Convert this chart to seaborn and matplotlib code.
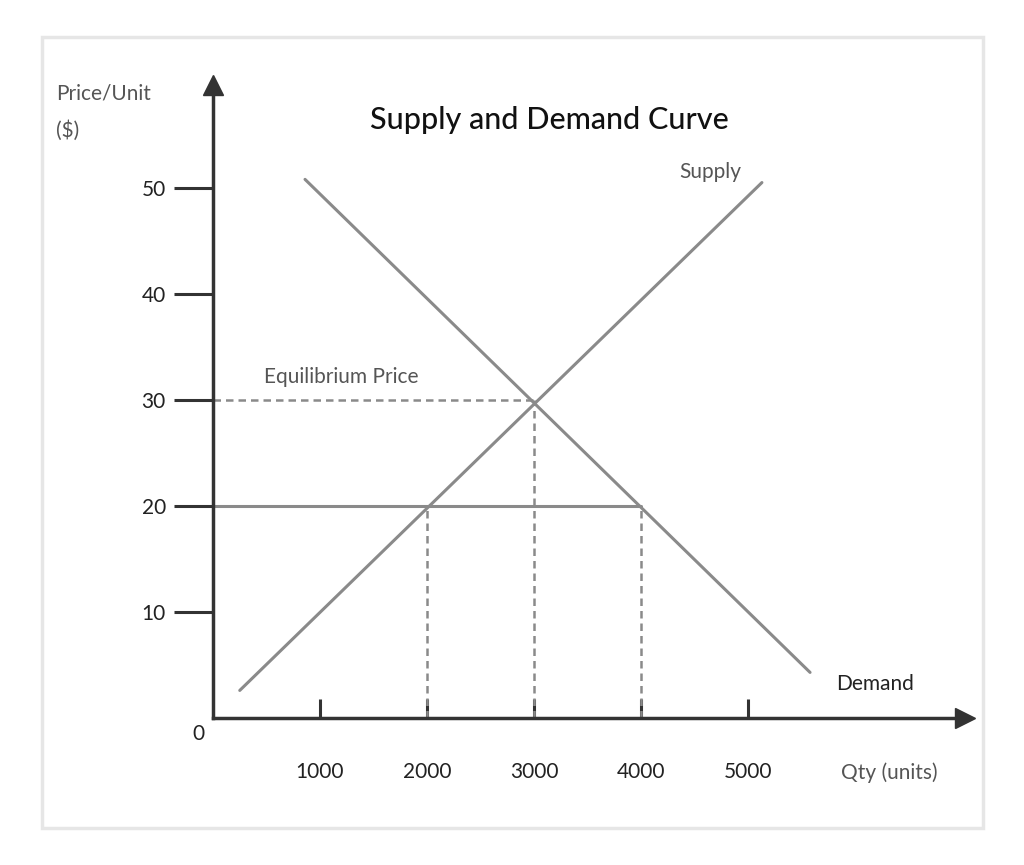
import matplotlib
matplotlib.use("Agg")
import matplotlib.pyplot as plt
import seaborn as sns
import pandas as pd
from matplotlib.patches import Rectangle

sns.set_theme(style="white")
plt.rcParams['font.family'] = ['Lato', 'DejaVu Sans']

supply_qty = [250, 5130]
supply_price = [2.6, 50.5]
demand_qty = [860, 5580]
demand_price = [50.8, 4.3]
eq_qty, eq_price = 3000, 30
price_line = 20
qty_low, qty_high = 2000, 4000
x_ticks = [1000, 2000, 3000, 4000, 5000]
y_ticks = [10, 20, 30, 40, 50]

fig = plt.figure(figsize=(10.24, 8.65), dpi=100)
fig.patches.append(Rectangle((42/1024, 1-828/865), 941/1024, 791/865, transform=fig.transFigure,
                             fill=False, edgecolor="#e6e6e6", linewidth=2.5))
ax = fig.add_axes([213/1024, 147/865, 752/1024, 633/865])
ax.set_xlim(0, 7028)
ax.set_ylim(0, 59.7)
gray = "#8a8a8a"
sup = pd.DataFrame({"q": supply_qty, "p": supply_price})
dem = pd.DataFrame({"q": demand_qty, "p": demand_price})
sns.lineplot(data=sup, x="q", y="p", ax=ax, color=gray, lw=2.2)
sns.lineplot(data=dem, x="q", y="p", ax=ax, color=gray, lw=2.2)
ax.plot([0, qty_high], [price_line, price_line], color=gray, lw=2.2)
dk = dict(color=gray, lw=1.8, ls=(0, (3, 2)))
ax.plot([0, eq_qty], [eq_price, eq_price], **dk)
for q, p in [(qty_low, price_line), (eq_qty, eq_price), (qty_high, price_line)]:
    ax.plot([q, q], [0, p], **dk)

for s in ["top", "right"]:
    ax.spines[s].set_visible(False)
for s in ["left", "bottom"]:
    ax.spines[s].set_color("#333333"); ax.spines[s].set_linewidth(2.5)
ax.plot(1, 0, ">", color="#333333", ms=14, transform=ax.transAxes, clip_on=False)
ax.plot(0, 1, "^", color="#333333", ms=14, transform=ax.transAxes, clip_on=False)
ax.set_xticks(x_ticks); ax.set_yticks(y_ticks)
ax.tick_params(axis="x", bottom=True, direction="in", length=14, width=2.2, color="#333333", pad=32, labelsize=15, labelcolor="#222")
ax.tick_params(axis="y", left=True, direction="out", length=28, width=2.2, color="#333333", pad=6, labelsize=15, labelcolor="#222")
ax.set_xlabel(""); ax.set_ylabel("")

fig.text(549/1024, 1-120/865, "Supply and Demand Curve", ha="center", va="center", fontsize=22, fontweight="medium", color="#111")
fig.text(56/1024, 1-94/865, "Price/Unit", fontsize=15, color="#555", va="center")
fig.text(56/1024, 1-131/865, "($)", fontsize=15, color="#555", va="center")
fig.text(192/1024, 1-734/865, "0", fontsize=15, color="#222", va="center")
fig.text(889/1024, 1-773/865, "Qty (units)", fontsize=15, color="#555", ha="center", va="center")
fig.text(710/1024, 1-172/865, "Supply", fontsize=15, color="#555", ha="center", va="center")
fig.text(875/1024, 1-684/865, "Demand", fontsize=15, color="#222", ha="center", va="center")
fig.text(341/1024, 1-377/865, "Equilibrium Price", fontsize=15, color="#555", ha="center", va="center")
fig.savefig("out.png", dpi=100, facecolor="white")
